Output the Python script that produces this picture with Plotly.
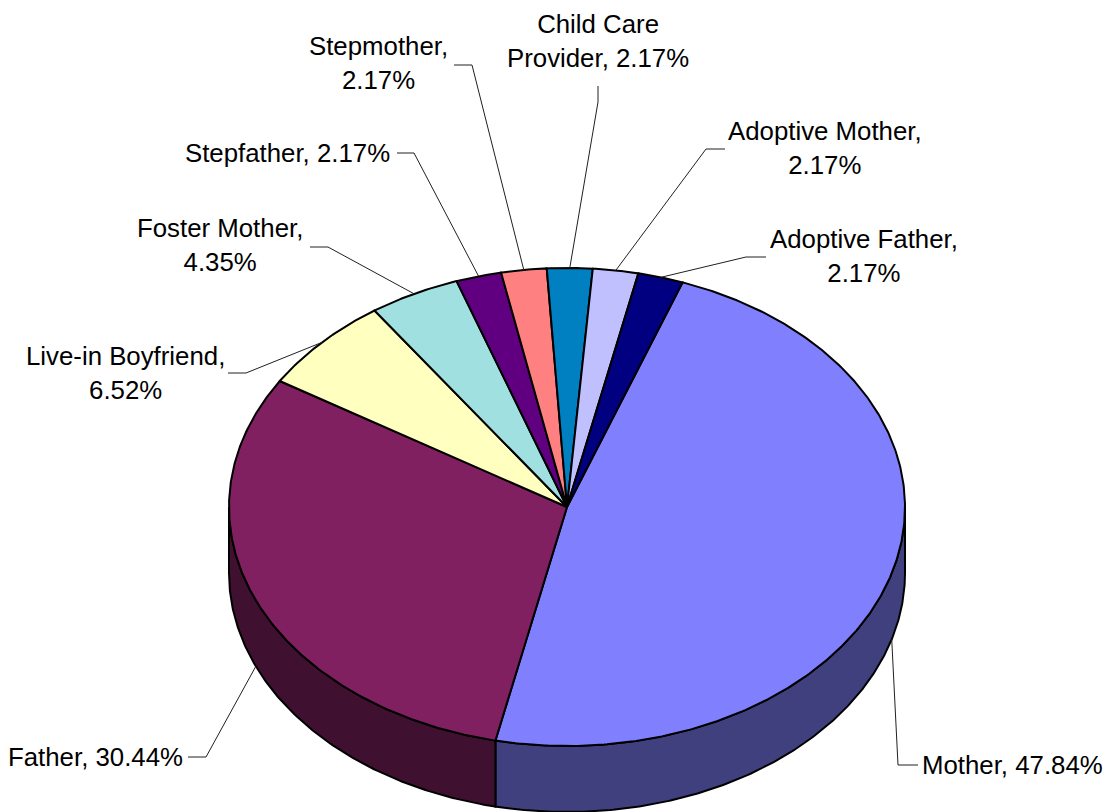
import numpy as np
import plotly.graph_objects as go

# ---- data ----
categories = ["Mother", "Father", "Live-in Boyfriend", "Foster Mother", "Stepfather",
              "Stepmother", "Child Care Provider", "Adoptive Mother", "Adoptive Father"]
values = [47.84, 30.44, 6.52, 4.35, 2.17, 2.17, 2.17, 2.17, 2.17]
label_texts = ["Mother, 47.84%", "Father, 30.44%", "Live-in Boyfriend,<br>6.52%",
               "Foster Mother,<br>4.35%", "Stepfather, 2.17%", "Stepmother,<br>2.17%",
               "Child Care<br>Provider, 2.17%", "Adoptive Mother,<br>2.17%",
               "Adoptive Father,<br>2.17%"]

# ---- styles ----
top_colors = ["#8080ff", "#802060", "#ffffc0", "#a0e0e0", "#600080",
              "#ff8080", "#0080c0", "#c0c0ff", "#000080"]
side_colors = ["#40407f", "#401030", "#80805f", "#507070", "#300040",
               "#804040", "#004060", "#60607f", "#000040"]

# ---- layout geometry (pixels in the hidden axes) ----
W, H = 1107, 812
CX, CY, RX, RY, DEPTH = 567, 507, 338, 239, 66
START = 20.0
FONT = dict(family="Liberation Sans, Arial, sans-serif", size=25.8, color="#000000")
label_centers = [(1012.5, 765), (95, 757), (125, 373), (220, 245), (287, 153),
                 (378, 63), (598, 41), (825, 148), (864, 256)]
leader_elbows = [[(898, 765), (918, 765)], [(206, 757), (188, 757)], [(246, 373), (228, 373)],
                 [(328, 247), (310, 247)], [(414, 153), (397, 153)], [(472, 65), (454, 65)],
                 [(598, 102), (598, 86)], [(706, 149), (725, 149)], [(746, 257), (766, 257)]]


def ex(a):
    return CX + RX * np.sin(np.radians(a))


def ey(a, dz=0):
    return CY - RY * np.cos(np.radians(a)) + dz


def arc(a0, a1):
    n = max(2, int(abs(a1 - a0) * 2) + 1)
    return np.linspace(a0, a1, n)


total = sum(values)
spans = []
a = START
for v in values:
    b = a + v / total * 360.0
    spans.append((a, b))
    a = b

fig = go.Figure()

# side walls (only the front half of the disc shows)
for (a0, a1), col, name in zip(spans, side_colors, categories):
    s0, s1 = max(a0, 90.0), min(a1, 270.0)
    if s1 <= s0:
        continue
    t = arc(s0, s1)
    xs = np.concatenate([ex(t), ex(t[::-1])])
    ys = np.concatenate([ey(t), ey(t[::-1], DEPTH)])
    fig.add_trace(go.Scatter(x=np.append(xs, xs[0]), y=np.append(ys, ys[0]), mode="lines",
                             fill="toself", fillcolor=col, name=name + " side",
                             line=dict(color="#000000", width=2), hoverinfo="skip",
                             showlegend=False))

# top faces
for (a0, a1), col, name, v in zip(spans, top_colors, categories, values):
    t = arc(a0, a1)
    xs = np.concatenate([[CX], ex(t), [CX]])
    ys = np.concatenate([[CY], ey(t), [CY]])
    fig.add_trace(go.Scatter(x=xs, y=ys, mode="lines", fill="toself", fillcolor=col, name=name,
                             line=dict(color="#000000", width=2), hoveron="fills",
                             text=f"{name}: {v}%", hoverinfo="text", showlegend=False))

# leader lines: start on the rim at the slice's mid angle
for (a0, a1), elbows in zip(spans, leader_elbows):
    mid = (a0 + a1) / 2
    front = 90 <= (mid % 360) <= 270
    x0, y0 = ex(mid), ey(mid, DEPTH if front else 0)
    fig.add_trace(go.Scatter(x=[x0] + [p[0] for p in elbows], y=[y0] + [p[1] for p in elbows],
                             mode="lines", line=dict(color="#202020", width=1),
                             hoverinfo="skip", showlegend=False))

annotations = [dict(x=x, y=y, text=txt, showarrow=False, xref="x", yref="y", xanchor="center",
                    yanchor="middle", align="center", font=FONT)
               for txt, (x, y) in zip(label_texts, label_centers)]

fig.update_layout(width=W, height=H, margin=dict(l=0, r=0, t=0, b=0),
                  paper_bgcolor="#ffffff", plot_bgcolor="#ffffff", showlegend=False,
                  annotations=annotations,
                  xaxis=dict(range=[0, W], visible=False, fixedrange=True),
                  yaxis=dict(range=[H, 0], visible=False, fixedrange=True))

fig.write_html("out.html", config=dict(displayModeBar=False),
               post_script="document.body.style.margin='0';document.documentElement.style.overflow='hidden';")
